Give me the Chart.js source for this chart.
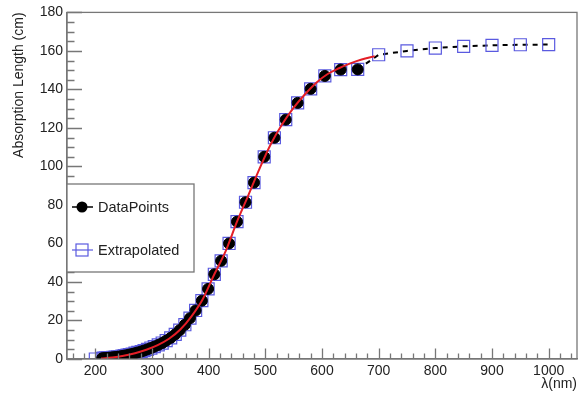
<!DOCTYPE html>
<html lang="en">
<head>
    <meta charset="UTF-8">
    <title>Absorption Length</title>
    <script src="https://cdn.jsdelivr.net/npm/chart.js@4.4.1/dist/chart.umd.min.js"></script>
    <style>
        body { margin: 0; background: #fff; }
        #chart { display: block; }
    </style>
</head>
<body>
<canvas id="chart" width="587" height="396"></canvas>

<script>
    // Measured points (wavelength in nm, absorption length in cm)
    const wavelengths = [663, 633, 605, 580, 557, 536, 516, 498, 480, 465, 450, 436, 422, 410, 399, 388, 377,
        367, 358, 349, 341, 333, 325, 318, 311, 304, 298, 292, 286, 281, 275, 270, 265, 260, 256, 251,
        247, 243, 239, 235, 231, 228, 224, 221, 218, 215, 212];
    const absorption = [150.4, 150.3, 147, 140.3, 133, 124.3, 114.9, 105, 91.6, 81.4, 71.3, 60, 51, 44, 36.4, 30.3, 25.2,
        21.2, 17.8, 15, 12.8, 11, 9.5, 8.3, 7.3, 6.4, 5.7, 5.0, 4.4, 3.9, 3.4, 3.0, 2.6, 2.3, 2.0, 1.75,
        1.5, 1.3, 1.15, 1.0, 0.85, 0.75, 0.65, 0.55, 0.5, 0.4, 0.35];

    // Extrapolated ends
    const extraLowX = [200];
    const extraLowY = [0];
    const extraHighX = [700, 750, 800, 850, 900, 950, 1000];
    const extraHighY = [158, 160, 161.5, 162.4, 162.9, 163.2, 163.3];

    // Fitted curve
    const fitX = [210, 230, 250, 270, 290, 310, 330, 350, 370, 390, 410, 430, 450, 470, 490, 510, 530, 550, 570, 590, 610, 630, 650, 670, 693];
    const fitY = [0.3, 0.8, 1.7, 3.0, 4.8, 7.2, 10.5, 15.3, 22.3, 31.3, 44, 56, 71.3, 85, 99, 111.8, 122, 130.5, 137.5, 143.5, 148, 151, 153.5, 155.5, 157.3];

    const xTicks = [200, 300, 400, 500, 600, 700, 800, 900, 1000];
    const yTicks = [0, 20, 40, 60, 80, 100, 120, 140, 160, 180];

    const FONT = '"Liberation Sans", Arial, Helvetica, sans-serif';
    const BLUE = '#5a5ae0';
    const GRAY = '#777';

    const toPoints = (xs, ys) => xs.map((x, i) => ({ x: x, y: ys[i] }));

    const dataPts = toPoints(wavelengths, absorption).sort((a, b) => a.x - b.x);
    const extraPts = toPoints(extraLowX, extraLowY)
        .concat(dataPts)
        .concat(toPoints(extraHighX, extraHighY));

    // ROOT-style inward ticks, frame and the boxed legend
    const rootFrame = {
        id: 'rootFrame',
        afterDatasetsDraw(chart) {
            const { ctx, chartArea: a, scales: { x, y } } = chart;
            ctx.save();
            ctx.strokeStyle = GRAY;
            ctx.lineWidth = 1.3;
            ctx.strokeRect(a.left, a.top, a.right - a.left, a.bottom - a.top);

            ctx.beginPath();
            for (let v = 0; v <= 180; v += 5) {
                const py = Math.round(y.getPixelForValue(v)) + 0.5;
                const len = v % 20 === 0 ? 15 : 7.5;
                ctx.moveTo(a.left, py);
                ctx.lineTo(a.left + len, py);
            }
            for (let v = 160; v <= 1040; v += 20) {
                const px = Math.round(x.getPixelForValue(v)) + 0.5;
                const len = v % 100 === 0 ? 10.5 : 5.5;
                ctx.moveTo(px, a.bottom);
                ctx.lineTo(px, a.bottom - len);
            }
            ctx.stroke();

            // legend box
            const bx = a.left, by = 184, bw = 127, bh = 88;
            ctx.fillStyle = '#fff';
            ctx.fillRect(bx, by, bw, bh);
            ctx.strokeStyle = GRAY;
            ctx.lineWidth = 1.3;
            ctx.strokeRect(bx, by, bw, bh);

            const ds = chart.data.datasets;
            ctx.font = '14.5px ' + FONT;
            ctx.fillStyle = '#222';
            ctx.textBaseline = 'middle';

            // DataPoints entry
            let ly = 207;
            ctx.strokeStyle = '#000';
            ctx.lineWidth = 1.5;
            ctx.beginPath();
            ctx.moveTo(72, ly); ctx.lineTo(93, ly);
            ctx.stroke();
            ctx.fillStyle = '#000';
            ctx.beginPath();
            ctx.arc(82, ly, 5.5, 0, Math.PI * 2);
            ctx.fill();
            ctx.fillStyle = '#222';
            ctx.fillText(ds[1].label, 98, ly + 1);

            // Extrapolated entry
            ly = 250;
            ctx.strokeStyle = BLUE;
            ctx.lineWidth = 1.2;
            ctx.beginPath();
            ctx.moveTo(72, ly); ctx.lineTo(93, ly);
            ctx.stroke();
            ctx.strokeRect(76, ly - 6, 12, 12);
            ctx.fillText(ds[2].label, 98, ly + 1);
            ctx.restore();
        }
    };

    new Chart(document.getElementById('chart'), {
        type: 'scatter',
        data: {
            datasets: [
                {
                    label: 'Fit',
                    data: toPoints(fitX, fitY),
                    showLine: true,
                    borderColor: '#e41e26',
                    borderWidth: 2,
                    pointRadius: 0,
                    cubicInterpolationMode: 'monotone',
                    order: 0
                },
                {
                    label: 'DataPoints',
                    data: dataPts,
                    backgroundColor: '#000',
                    borderColor: '#000',
                    pointRadius: 5.5,
                    pointStyle: 'circle',
                    order: 1
                },
                {
                    label: 'Extrapolated',
                    data: extraPts,
                    showLine: true,
                    borderWidth: 2,
                    borderColor: '#000',
                    segment: {
                        borderColor: c => c.p0.parsed.x >= 660 ? '#000' : 'rgba(0,0,0,0)',
                        borderDash: () => [5, 5]
                    },
                    pointStyle: 'rect',
                    pointRadius: 8.5,
                    pointBorderWidth: 1.2,
                    pointBorderColor: BLUE,
                    pointBackgroundColor: 'rgba(255,255,255,0)',
                    order: 2
                }
            ]
        },
        options: {
            responsive: false,
            animation: false,
            layout: { padding: { left: 0, top: 10, right: 10, bottom: 0 } },
            plugins: {
                legend: { display: false },
                tooltip: { enabled: false }
            },
            scales: {
                x: {
                    type: 'linear',
                    min: 150,
                    max: 1050,
                    afterFit: s => { s.height = 37; },
                    afterBuildTicks: s => { s.ticks = xTicks.map(v => ({ value: v })); },
                    grid: { display: false, drawTicks: false },
                    border: { display: true, color: GRAY, width: 1.3 },
                    ticks: { padding: 4, color: '#222', font: { family: FONT, size: 14 }, callback: v => String(v) },
                    title: {
                        display: true,
                        text: 'λ(nm)',
                        align: 'end',
                        color: '#222',
                        font: { family: FONT, size: 14 },
                        padding: { top: 0, bottom: 3 }
                    }
                },
                y: {
                    type: 'linear',
                    min: 0,
                    max: 180,
                    afterFit: s => { s.width = 67; },
                    afterBuildTicks: s => { s.ticks = yTicks.map(v => ({ value: v })); },
                    grid: { display: false, drawTicks: false },
                    border: { display: true, color: GRAY, width: 1.3 },
                    ticks: { padding: 4, color: '#222', font: { family: FONT, size: 14 }, callback: v => String(v) },
                    title: {
                        display: true,
                        text: 'Absorption Length (cm)',
                        align: 'end',
                        color: '#222',
                        font: { family: FONT, size: 14 },
                        padding: { top: 11, bottom: 0 }
                    }
                }
            }
        },
        plugins: [rootFrame]
    });
</script>
</body>
</html>
